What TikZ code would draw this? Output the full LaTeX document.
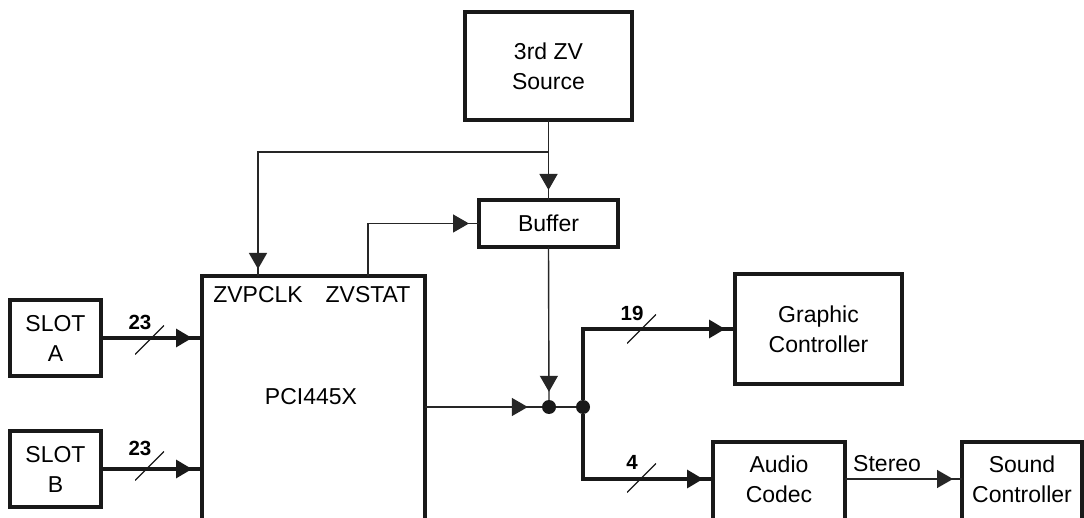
\documentclass[tikz,border=0pt]{standalone}
\usepackage{fontspec}
\setmainfont{Liberation Sans}
\usetikzlibrary{arrows.meta,decorations.markings,calc}
\tikzset{
  box/.style={draw=black!90, line width=3.4pt, anchor=north west, inner sep=0pt, outer sep=0pt, align=center, font=\fontsize{23}{30}\selectfont},
  lbl/.style={inner sep=0pt, align=center, font=\fontsize{23}{30}\selectfont},
  buslbl/.style={inner sep=0pt, font=\bfseries\fontsize{20.5}{22}\selectfont},
  thinln/.style={line width=1.4pt, draw=black!85},
  thickln/.style={line width=3.4pt, draw=black!90},
  arr/.style={postaction={decorate}, decoration={markings, mark=at position -#1 with {\arrow{Triangle[length=16pt,width=18pt]}}}},
  arr/.default=10pt,
  dot/.style={circle, fill=black!90, minimum size=14pt, inner sep=0pt},
  slash/.style={minimum size=29pt, inner sep=0pt, path picture={\draw[line width=1.1pt, black!90] (path picture bounding box.south west) -- (path picture bounding box.north east);}}
}
\begin{document}
\begin{tikzpicture}[x=1pt,y=-1pt]
\useasboundingbox (0,0) rectangle (1084,518);
\clip (0,0) rectangle (1084,518);
\fill[white] (0,0) rectangle (1084,518);
% boxes
\node[box, minimum width=167pt, minimum height=108pt] (src) at (465,12) {3rd ZV\\Source};
\node[box, minimum width=139pt, minimum height=47pt] (buf) at (479,200) {Buffer};
\node[box, minimum width=223pt, minimum height=320pt] (pci) at (202,276) {};
\node[box, minimum width=91pt, minimum height=76pt] (slotA) at (10,300) {SLOT\\A};
\node[box, minimum width=91pt, minimum height=76pt] (slotB) at (10,431) {SLOT\\B};
\node[box, minimum width=167pt, minimum height=110pt] (gfx) at (735,274) {Graphic\\Controller};
\node[box, minimum width=132pt, minimum height=120pt] (codec) at (713,442) {};
\node[box, minimum width=120pt, minimum height=120pt] (sound) at (962,442) {};
% texts
\node[lbl] (zvp) at (258,295) {ZVPCLK};
\node[lbl] (zvs) at (368,295) {ZVSTAT};
\node[lbl] (pcit) at (311,397) {PCI445X};
\node[lbl] (codect) at (779,479) {Audio\\Codec};
\node[lbl] (soundt) at (1022,479) {Sound\\Controller};
% junctions
\node[dot] (j1) at (549,407) {};
\node[dot] (j2) at (583,407) {};
\coordinate (br) at ([yshift=-32pt]src.south);
% thin connectors
\draw[thinln, arr] (src.south) -- (buf.north);
\draw[thinln, arr=7pt] (br) -| (pci.north -| zvp);
\draw[thinln, arr] (pci.north -| zvs) |- (buf.west);
\draw[thinln, arr=8pt] (buf.south) -- (j1);
\draw[thinln, arr=14pt] (j1 -| pci.east) -- (j1);
\draw[thinln] (j1) -- (j2);
\draw[thinln, arr=9pt] (codec.east |- codect) -- (sound.west |- codect)
  node[pos=0.36, anchor=south, inner sep=0pt, yshift=7pt, font=\fontsize{23}{30}\selectfont] (st) {Stereo};
% thick connectors
\draw[thickln, arr] (slotA.east) -- (slotA.east -| pci.west);
\draw[thickln, arr] (slotB.east) -- (slotB.east -| pci.west);
\draw[thickln, arr] (j2) |- (gfx.west);
\draw[thickln, arr] (j2) |- (codec.west |- codect);
% bus slashes
\node[slash] (sA) at (149.5,340) {};
\node[slash] (sB) at (149.5,466) {};
\node[slash] (s19) at (641.5,329) {};
\node[slash] (s4) at (641.5,478) {};
\node[buslbl] (lA) at ([xshift=-9.5pt,yshift=18pt]sA.center) {23};
\node[buslbl] (lB) at ([xshift=-9.5pt,yshift=18pt]sB.center) {23};
\node[buslbl] (l19) at ([xshift=-9.5pt,yshift=16pt]s19.center) {19};
\node[buslbl] (l4) at ([xshift=-9.5pt,yshift=16pt]s4.center) {4};
\end{tikzpicture}
\end{document}
